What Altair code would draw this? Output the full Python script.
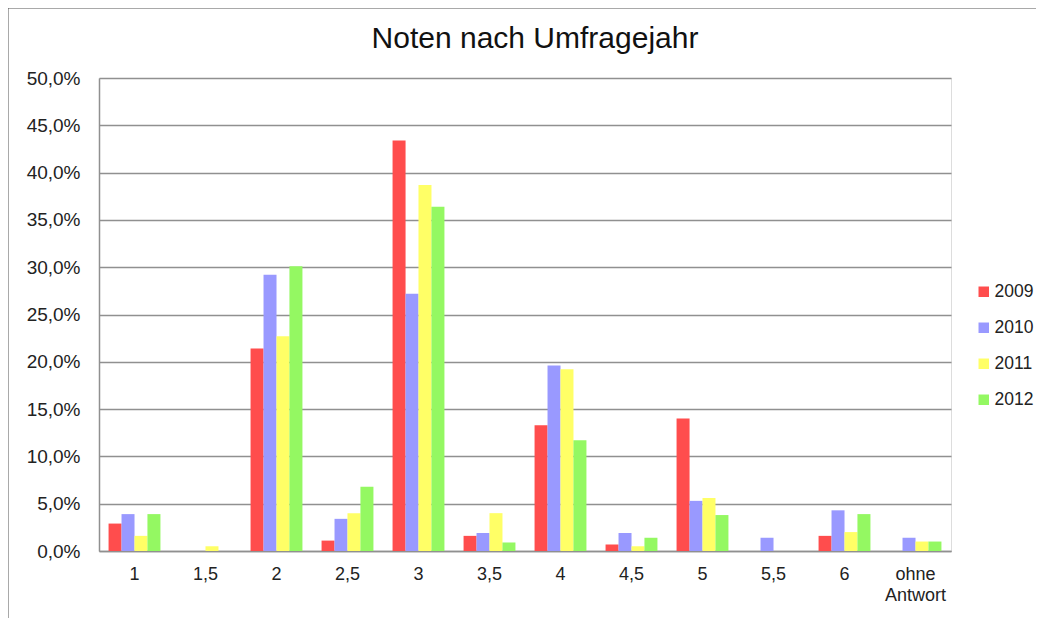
import altair as alt
import pandas as pd

categories = ["1", "1,5", "2", "2,5", "3", "3,5", "4", "4,5", "5", "5,5", "6", "ohne Antwort"]
years = ["2009", "2010", "2011", "2012"]
vals2009 = [2.9, 0.0, 21.4, 1.1, 43.4, 1.6, 13.3, 0.7, 14.0, 0.0, 1.6, 0.0]
vals2010 = [3.9, 0.0, 29.2, 3.4, 27.2, 1.9, 19.6, 1.9, 5.3, 1.4, 4.3, 1.4]
vals2011 = [1.6, 0.5, 22.7, 4.0, 38.7, 4.0, 19.2, 0.5, 5.6, 0.0, 2.0, 1.0]
vals2012 = [3.9, 0.0, 30.1, 6.8, 36.4, 0.9, 11.7, 1.4, 3.8, 0.0, 3.9, 1.0]
colors = ["#FF4D4D", "#9999FF", "#FFFF66", "#94F862"]

rows = []
for y, vals in zip(years, [vals2009, vals2010, vals2011, vals2012]):
    for c, v in zip(categories, vals):
        rows.append({"Note": c, "Jahr": y, "Anteil": v / 100.0})
df = pd.DataFrame(rows)

FONT = "Liberation Sans"
W, H = 852, 473

bars = alt.Chart(df).mark_bar(size=13).encode(
    x=alt.X("Note:N", sort=categories,
            scale=alt.Scale(paddingInner=0.27, paddingOuter=0.135),
            axis=alt.Axis(title=None, labelAngle=0, ticks=False, domain=True,
                          domainColor="#909090", domainWidth=1.5,
                          labelFont=FONT, labelFontSize=18, labelColor="#222222",
                          labelPadding=14, labelLineHeight=21,
                          labelExpr="datum.label == 'ohne Antwort' ? ['ohne', 'Antwort'] : datum.label")),
    xOffset=alt.XOffset("Jahr:N", sort=years, scale=alt.Scale(paddingInner=0, paddingOuter=0)),
    y=alt.Y("Anteil:Q",
            scale=alt.Scale(domain=[0, 0.5], nice=False),
            axis=alt.Axis(title=None, values=[i * 0.05 for i in range(11)],
                          labelExpr="replace(format(datum.value, '.1%'), '.', ',')",
                          ticks=False, domain=True, domainColor="#909090", domainWidth=1.5,
                          grid=True, gridColor="#909090", gridWidth=1.5,
                          labelFont=FONT, labelFontSize=19, labelColor="#222222",
                          labelPadding=19)),
    color=alt.Color("Jahr:N", sort=years,
                    scale=alt.Scale(domain=years, range=colors),
                    legend=alt.Legend(title=None, orient="none", legendX=876, legendY=205,
                                      symbolType="square", symbolSize=110, symbolStrokeWidth=0,
                                      labelFont=FONT, labelFontSize=17.5, labelColor="#222222",
                                      rowPadding=17, labelOffset=2, padding=0)),
)

border_df = pd.DataFrame({"k": [0]})
left_border = alt.Chart(border_df).mark_rule(color="#555555", strokeWidth=1).encode(
    x=alt.value(-91), y=alt.value(-70), y2=alt.value(H + 80))
top_border = alt.Chart(border_df).mark_rule(color="#555555", strokeWidth=1).encode(
    x=alt.value(-91), x2=alt.value(W + 100), y=alt.value(-70))

chart = alt.layer(bars, left_border, top_border).properties(
    width=W, height=H,
    title=alt.TitleParams("Noten nach Umfragejahr", font=FONT, fontSize=30, fontWeight="normal",
                          color="#111111", offset=-46, dx=10),
    autosize=alt.AutoSizeParams(type="none"),
    padding={"left": 91, "top": 70, "right": 85, "bottom": 67},
).configure_view(stroke=None).configure(background="white")

chart.save("out.html", embed_options={"renderer": "svg", "actions": False})
